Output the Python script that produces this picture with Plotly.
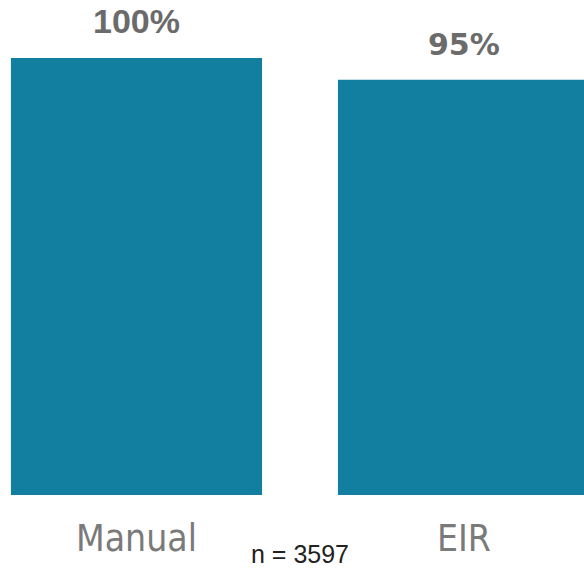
import plotly.graph_objects as go

categories = ["Manual", "EIR"]
values = [100, 95]
value_labels = ["100%", "95%"]
n_label = "n = 3597"

bar_color = "#137fa0"

fig = go.Figure()
fig.add_trace(go.Bar(
    x=[0, 1], y=values, width=[0.768, 0.768],
    marker=dict(color=bar_color, line=dict(width=0)),
    hoverinfo="skip",
))

label_fonts = ["Liberation Sans", "DejaVu Sans"]
label_sizes = [34, 30]
for i, (v, t) in enumerate(zip(values, value_labels)):
    fig.add_annotation(x=i, y=v, xref="x", yref="y", text=f"<b>{t}</b>",
                       showarrow=False, yanchor="bottom", yshift=16,
                       font=dict(family=label_fonts[i], size=label_sizes[i], color="#6b6b6b"))

for i, c in enumerate(categories):
    fig.add_annotation(x=i, y=0, xref="x", yref="paper", text=c,
                       showarrow=False, yanchor="middle", yshift=-43,
                       font=dict(family="DejaVu Sans Condensed, Open Sans", size=37, color="#7a7a7a"))

fig.add_annotation(x=0.5, y=0, xref="x", yref="paper", text=n_label,
                   showarrow=False, yanchor="middle", yshift=-59, height=24,
                   valign="middle",
                   font=dict(family="Liberation Sans", size=25, color="#222222"))

fig.update_layout(
    width=584, height=568,
    margin=dict(l=0, r=0, t=0, b=73),
    plot_bgcolor="white", paper_bgcolor="white",
    showlegend=False,
    xaxis=dict(range=[-0.4174, 1.3685], showticklabels=False, showgrid=False,
               zeroline=False, showline=False, ticks=""),
    yaxis=dict(range=[0, 113.27], showticklabels=False, showgrid=False,
               zeroline=False, showline=False, ticks=""),
)

fig.write_html("out.html", config={"displayModeBar": False})
